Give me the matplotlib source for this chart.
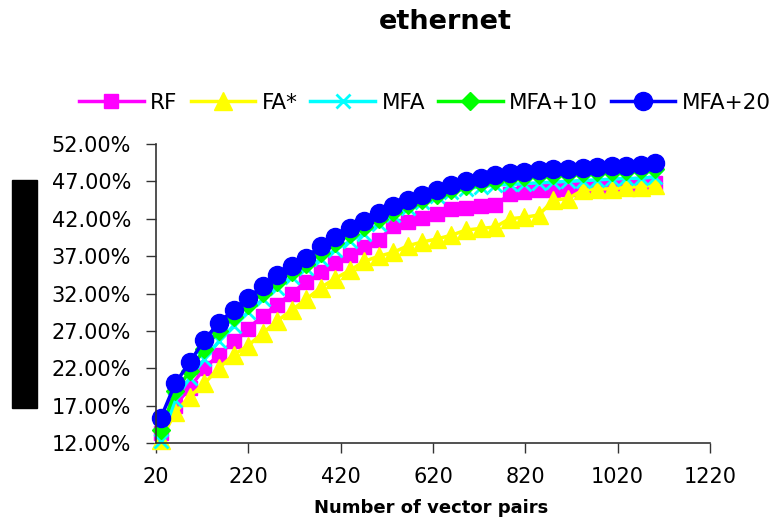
import matplotlib
matplotlib.use("Agg")
import matplotlib.pyplot as plt
from matplotlib.patches import Rectangle
from matplotlib.ticker import FuncFormatter

plt.rcParams['font.family'] = ['DejaVu Sans']

title = "ethernet"
xlabel = "Number of vector pairs"
series_names = ["RF", "FA*", "MFA", "MFA+10", "MFA+20"]

x_pairs = [30, 62, 93, 125, 156, 188, 219, 251, 282, 314, 345, 377, 408, 440,
           471, 503, 534, 566, 597, 629, 660, 692, 723, 755, 786, 818, 849, 881,
           912, 944, 975, 1007, 1038, 1070, 1101]

rf = [13.3, 17.0, 19.4, 22.0, 23.8, 25.6, 27.3, 29.0, 30.5, 32.0, 33.6, 34.9,
      36.1, 37.1, 38.2, 39.2, 41.0, 41.6, 42.1, 42.7, 43.3, 43.5, 43.7, 43.8,
      45.3, 45.6, 45.8, 45.9, 46.0, 46.2, 46.3, 46.4, 46.5, 46.6, 46.8]

fa_star = [12.4, 16.1, 18.2, 20.0, 22.0, 23.8, 25.0, 26.7, 28.3, 29.8, 31.2, 32.8,
           34.0, 35.1, 36.3, 37.0, 37.5, 38.4, 38.9, 39.3, 39.8, 40.5, 40.7, 40.9,
           42.0, 42.2, 42.5, 44.5, 44.7, 45.8, 46.0, 46.0, 46.2, 46.3, 46.5]

mfa = [12.3, 17.8, 20.7, 23.2, 25.6, 27.7, 29.5, 31.2, 32.8, 34.2, 35.4, 36.6,
       37.8, 39.0, 40.0, 41.3, 42.5, 43.4, 44.3, 45.0, 45.6, 46.0, 46.3, 46.5,
       46.6, 46.7, 46.8, 46.9, 47.0, 47.1, 47.2, 47.3, 47.4, 47.4, 47.6]

mfa10 = [13.7, 18.9, 21.6, 24.6, 27.0, 28.8, 30.5, 32.1, 33.6, 34.9, 36.0, 37.4,
         38.7, 39.9, 40.9, 42.0, 42.9, 43.8, 44.5, 45.2, 45.8, 46.4, 46.8, 47.1,
         47.4, 47.6, 47.8, 47.9, 48.0, 48.1, 48.2, 48.3, 48.4, 48.5, 48.7]

mfa20 = [15.3, 20.0, 22.8, 25.8, 28.1, 29.8, 31.4, 33.0, 34.5, 35.7, 36.8, 38.4,
         39.6, 40.8, 41.7, 42.8, 43.7, 44.5, 45.2, 45.9, 46.5, 47.0, 47.4, 47.8,
         48.1, 48.3, 48.5, 48.6, 48.7, 48.8, 48.9, 49.0, 49.1, 49.2, 49.4]

x_ticks = [20, 220, 420, 620, 820, 1020, 1220]
y_ticks = [12, 17, 22, 27, 32, 37, 42, 47, 52]

W, H = 770, 519
fig = plt.figure(figsize=(W / 100, H / 100), dpi=100)
ax = fig.add_axes([156 / W, 1 - 443 / H, (710 - 156) / W, (443 - 144) / H])

styles = [
    dict(color="#ff00ff", marker="s", ms=10.5, mec="#ff00ff"),
    dict(color="#ffff00", marker="^", ms=13, mec="#ffff00"),
    dict(color="#00ffff", marker="x", ms=10, mew=2, mec="#00ffff"),
    dict(color="#00ff00", marker="D", ms=9.5, mec="#00ff00"),
    dict(color="#0000ff", marker="o", ms=13, mec="#0000ff"),
]
all_series = [rf, fa_star, mfa, mfa10, mfa20]
for name, ys, st in zip(series_names, all_series, styles):
    ax.plot(x_pairs, ys, lw=2.5, label=name, clip_on=False, **st)

ax.set_xlim(20, 1220)
ax.set_ylim(12, 52)
ax.set_xticks(x_ticks)
ax.set_yticks(y_ticks)
ax.yaxis.set_major_formatter(FuncFormatter(lambda v, p: f"{v:.2f}%"))
for s in ["top", "right"]:
    ax.spines[s].set_visible(False)
for s in ["left", "bottom"]:
    ax.spines[s].set_linewidth(1.2)
    ax.spines[s].set_color("#333333")
ax.tick_params(axis="both", direction="out", length=7, width=1.0, color="#333333",
               labelsize=15)
ax.tick_params(axis="y", pad=11)
ax.tick_params(axis="x", pad=10)

fig.text(445 / W, 1 - 22 / H, title, ha="center", va="center",
         fontsize=19.5, fontweight="bold")
fig.text(431 / W, 1 - 508 / H, xlabel, ha="center", va="center",
         fontsize=13, fontweight="bold")

leg = fig.legend(loc="center", bbox_to_anchor=(425 / W, 1 - 103 / H), ncol=5,
                 frameon=False, fontsize=15.5, handlelength=3.0,
                 handletextpad=0.3, columnspacing=0.6, borderpad=0)

fig.patches.append(Rectangle((12 / W, 1 - 408 / H), 25 / W, 228 / H,
                             transform=fig.transFigure, color="black"))

fig.savefig("out.png", dpi=100)
